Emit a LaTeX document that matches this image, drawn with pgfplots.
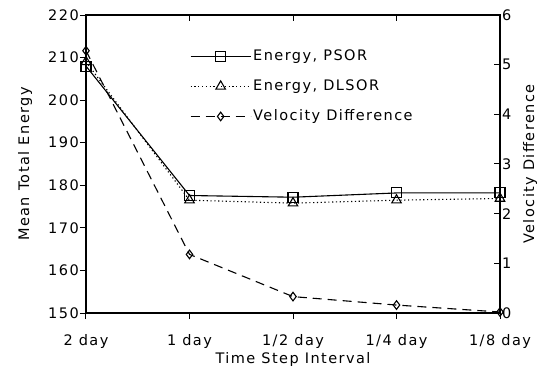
\documentclass[border=0pt]{standalone}
\usepackage{pgfplots}
\pgfplotsset{compat=1.18}
\usepackage{fontspec}
\setmainfont{DejaVu Sans}[LetterSpace=10]
\begin{document}
\fontsize{14.5}{17}\selectfont
\begin{tikzpicture}
\pgfplotsset{
  every axis/.append style={
    scale only axis, width=414pt, height=298pt,
    xmin=0, xmax=4,
    axis line style={line width=1.3pt},
    every tick/.style={black, line width=1pt},
    major tick length=6pt,
    /pgf/number format/assume math mode=true,
    tick label style={font=\fontsize{14.5}{17}\selectfont},
    label style={font=\fontsize{14.5}{17}\selectfont},
  },
  legend image code/.code={\draw[mark repeat=2,mark phase=2,#1] plot coordinates {(0pt,0pt) (30pt,0pt) (60pt,0pt)};},
}
\begin{axis}[
  at={(0,0)}, anchor=south west,
  ymin=150, ymax=220,
  ytick={150,160,...,220},
  xtick={0,1,2,3,4},
  xticklabels={2 day,1 day,1/2 day,1/4 day,1/8 day},
  xtick pos=left, ytick pos=left,
  tick align=outside,
  yticklabel style={inner sep=1pt},
  xticklabel style={yshift=-10pt},
  xlabel={Time Step Interval},
  ylabel={Mean Total Energy},
  x label style={at={(axis description cs:0.5,-0.156)}, anchor=center},
  y label style={at={(axis description cs:-0.147,0.5)}, anchor=center, rotate=0},
]
\addplot[black, line width=1.1pt, mark=square, mark size=5pt, mark options={solid}]
  coordinates {(0,208.0) (1,177.6) (2,177.2) (3,178.2) (4,178.2)};
\addplot[black, line width=1.1pt, dash pattern=on 1.2pt off 2.6pt, mark=triangle, mark size=5.5pt, mark options={solid}]
  coordinates {(0,209.0) (1,176.5) (2,175.8) (3,176.5) (4,176.9)};
\end{axis}
\begin{axis}[
  at={(0,0)}, anchor=south west,
  ymin=0, ymax=6,
  ytick={0,1,...,6},
  xtick={0,1,2,3,4}, xticklabels={},
  xtick pos=right, ytick pos=right,
  yticklabel pos=right,
  tick align=inside,
  yticklabel style={inner sep=2pt},
  ylabel={Velocity Difference},
  y label style={at={(axis description cs:1.0725,0.5)}, anchor=center, rotate=0},
  legend style={at={(axis description cs:0.251,0.89)}, anchor=north west, draw=none, fill=none, inner sep=0pt, row sep=13pt, font=\fontsize{14.5}{17}\selectfont},
  legend cell align=left,
]
\addlegendimage{black, line width=1.1pt, mark=square, mark size=5pt, mark options={solid}}
\addlegendentry{Energy, PSOR}
\addlegendimage{black, line width=1.1pt, dash pattern=on 1.2pt off 2.6pt, mark=triangle, mark size=5.5pt, mark options={solid}}
\addlegendentry{Energy, DLSOR}
\addplot[black, line width=1.1pt, dash pattern=on 9pt off 6pt, mark=diamond, mark size=4.3pt, mark options={solid}]
  coordinates {(0,5.28) (1,1.18) (2,0.33) (3,0.16) (4,0.02)};
\addlegendentry{Velocity Difference}
\end{axis}
\pgfresetboundingbox
\path (-86pt,-61pt) rectangle (459pt,313pt);
\end{tikzpicture}
\end{document}
